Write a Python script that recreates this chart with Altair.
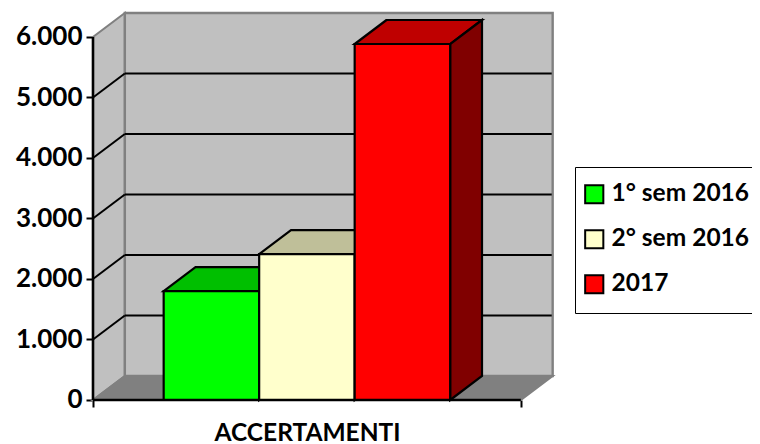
import altair as alt
import pandas as pd

series = ["1° sem 2016", "2° sem 2016", "2017"]
values = [1800, 2410, 5884]
front_colors = ["#00FF00", "#FFFFCC", "#FF0000"]
top_colors = ["#00BF00", "#BFBF99", "#BF0000"]
side_colors = ["#008000", "#808066", "#800000"]
tick_values = [0, 1000, 2000, 3000, 4000, 5000, 6000]
grid_values = [1000, 2000, 3000, 4000, 5000]
category = "ACCERTAMENTI"

GAP = 0.74           # space beside the bar cluster, in bar widths
BAR = 1.0
SPAN = 2 * GAP + 3 * BAR
DX = 1 / 3           # 3-D depth, in bar widths
DY = 397             # 3-D depth, in value units
YMAX = 6000
FONT = "Lato"

x_scale = alt.Scale(domain=[-0.89, 6.9005], range=[0, 744], nice=False, zero=False)
y_scale = alt.Scale(domain=[-727.3, 6479.3], range=[436, 0], nice=False, zero=False)
x_axis = alt.Axis(
    orient="bottom", offset=-44, values=[0, SPAN], labels=False, grid=False, domain=False,
    tickColor="black", tickWidth=2, tickSize=7,
    titleFont=FONT, titleFontSize=24.5, titleFontWeight="bold", titleColor="black",
    titleX=299, titleY=33, titleBaseline="middle", titleAlign="center")
y_axis = alt.Axis(
    orient="left", offset=-85, values=tick_values, grid=False, domain=False,
    labelExpr="replace(format(datum.value, ','), ',', '.')",
    tickColor="black", tickWidth=2, tickSize=7, labelPadding=4,
    labelFont=FONT, labelFontSize=26, labelFontWeight="bold", labelColor="black")
X = lambda f="x": alt.X(f"{f}:Q", scale=x_scale, axis=x_axis, title=category)
Y = lambda f="y": alt.Y(f"{f}:Q", scale=y_scale, axis=y_axis, title=None)
GRAY = "#808080"
WALL = "#C0C0C0"


def vert_area(x0, x1, y0a, y0b, y1a, y1b, fill, stroke, sw=2.0):
    d = pd.DataFrame({"x": [x0, x1], "y": [y0a, y1a], "y2": [y0b, y1b]})
    return alt.Chart(d).mark_area(fill=fill, stroke=stroke, strokeWidth=sw, orient="vertical", opacity=1).encode(
        x=X(), y=Y(), y2="y2:Q")


def horiz_area(y0, y1, x0a, x0b, x1a, x1b, fill, stroke, sw=2.0):
    d = pd.DataFrame({"y": [y0, y1], "x": [x0a, x1a], "x2": [x0b, x1b]})
    return alt.Chart(d).mark_area(fill=fill, stroke=stroke, strokeWidth=sw, orient="horizontal", opacity=1).encode(
        y=Y(), x=X(), x2="x2:Q")


layers = []

# walls and floor
layers.append(vert_area(0, DX, 0, YMAX, DY, YMAX + DY, WALL, GRAY))
layers.append(alt.Chart(pd.DataFrame({"x": [DX], "x2": [SPAN + DX], "y": [DY], "y2": [YMAX + DY]}))
              .mark_rect(fill=WALL, stroke=GRAY, strokeWidth=2.4)
              .encode(x=X(), x2="x2:Q", y=Y(), y2="y2:Q"))
layers.append(horiz_area(0, DY, 0, SPAN, DX, SPAN + DX, GRAY, GRAY))

# gridlines
gd = pd.DataFrame({"v": grid_values})
gd["a"] = gd["v"] + DY
layers.append(alt.Chart(gd).mark_rule(color="black", strokeWidth=2).transform_calculate(
    x0=f"{DX}", x1=f"{SPAN + DX - 0.01}").encode(x=X("x0"), x2="x1:Q", y=Y("a")))
for v in grid_values:
    layers.append(alt.Chart(pd.DataFrame({"x": [0, DX], "y": [v, v + DY]}))
                  .mark_line(color="black", strokeWidth=2).encode(x=X(), y=Y()))

# bars
for i, (s, v) in enumerate(zip(series, values)):
    x0 = GAP + i * BAR
    x1 = x0 + BAR
    layers.append(horiz_area(v, v + DY, x0, x1, x0 + DX, x1 + DX, top_colors[i], "black", 2.2))
    layers.append(vert_area(x1, x1 + DX, 0, v, DY, v + DY, side_colors[i], "black", 2.2))
    layers.append(
        alt.Chart(pd.DataFrame({"serie": [s], "x": [x0], "x2": [x1], "y": [0], "y2": [v]}))
        .mark_rect(stroke="black", strokeWidth=2.2, opacity=1)
        .encode(
            x=X(), x2="x2:Q", y=Y(), y2="y2:Q",
            color=alt.Color(
                "serie:N",
                scale=alt.Scale(domain=series, range=front_colors),
                legend=alt.Legend(
                    title=None, orient="none", legendX=567, legendY=159,
                    fillColor="white", strokeColor="black",
                    padding=15, rowPadding=18,
                    symbolType="square", symbolSize=330, symbolOffset=-8,
                    symbolStrokeColor="black", symbolStrokeWidth=2, symbolOpacity=1,
                    labelFont=FONT, labelFontSize=24.5, labelFontWeight="bold", labelColor="black",
                    labelOffset=5, labelLimit=300,
                ),
            ),
        )
    )

# axis lines
axis_df = pd.DataFrame({"x": [0.0], "x2": [SPAN], "y": [0], "y2": [YMAX]})
layers.append(alt.Chart(axis_df).mark_rule(color="black", strokeWidth=2.6).encode(
    x=X("x"), y=Y("y"), y2="y2:Q"))
layers.append(alt.Chart(axis_df).mark_rule(color="black", strokeWidth=2.6).encode(
    x=X("x"), x2="x2:Q", y=Y("y")))

chart = alt.layer(*layers).properties(
    width=744, height=436, padding=0, autosize=alt.AutoSizeParams(type="none"),
    background="white",
).configure_view(stroke=None)

chart.save("out.html", embed_options={"renderer": "svg", "actions": False})
